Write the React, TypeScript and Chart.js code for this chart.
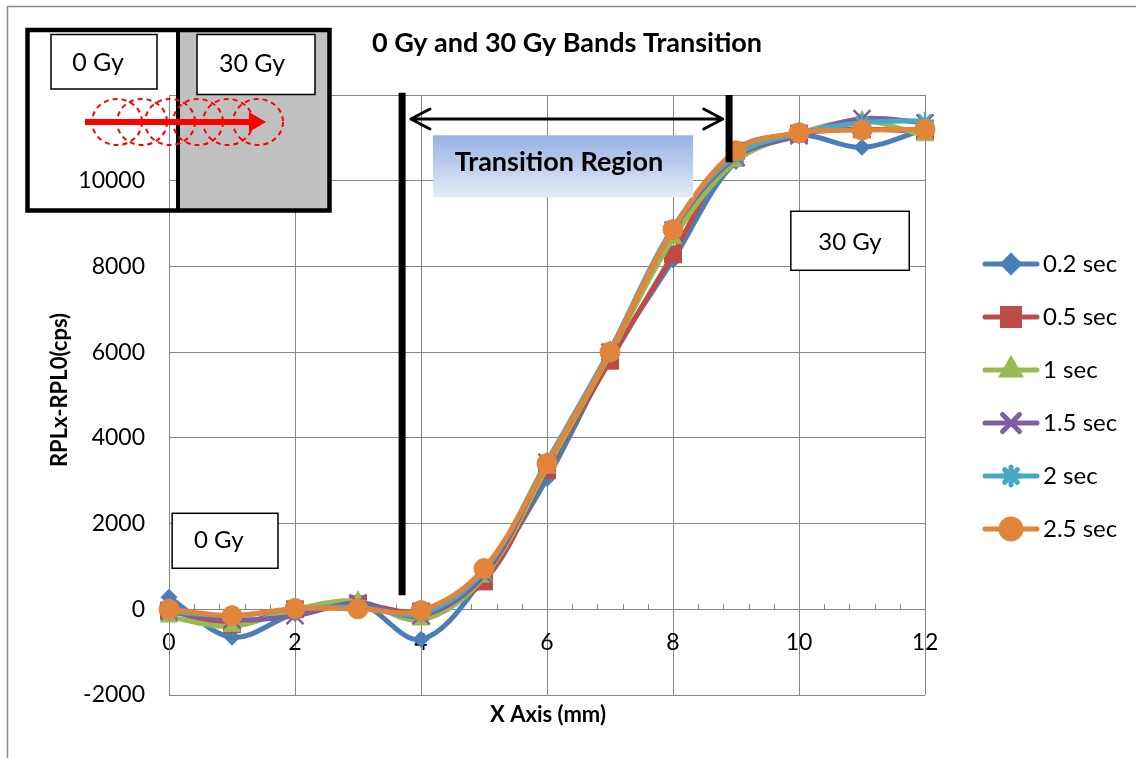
import React, { useEffect, useRef } from 'react';
import { Chart, registerables } from 'chart.js';
import { drawPoint } from 'chart.js/helpers';

Chart.register(...registerables);

// ---- data ----
const xValues = [0, 1, 2, 3, 4, 5, 6, 7, 8, 9, 10, 11, 12];
const seriesLabels = ['0.2 sec', '0.5 sec', '1 sec', '1.5 sec', '2 sec', '2.5 sec'];
const s02 = [280, -650, -100, 150, -700, 750, 3050, 5850, 8150, 10450, 11050, 10780, 11200];
const s05 = [-30, -350, 0, 120, -50, 650, 3250, 5800, 8280, 10700, 11100, 11200, 11150];
const s1 = [-180, -400, 0, 190, -250, 750, 3300, 5950, 8650, 10450, 11100, 11400, 11050];
const s15 = [-50, -250, -150, 150, -150, 800, 3430, 6000, 8850, 10550, 11050, 11450, 11350];
const s2 = [-50, -150, 0, 50, -100, 900, 3450, 6050, 8900, 10600, 11100, 11350, 11400];
const s25 = [0, -150, 20, 10, -30, 950, 3400, 6000, 8860, 10700, 11120, 11180, 11200];
const seriesValues = [s02, s05, s1, s15, s2, s25];
const xTickValues = [0, 2, 4, 6, 8, 10, 12];
const yTickValues = [-2000, 0, 2000, 4000, 6000, 8000, 10000, 12000];

// ---- styles ----
const seriesColors = ['#4A7EBB', '#BE4B48', '#98B954', '#7D60A0', '#46AAC5', '#E2843A'];
const pointStyles = ['rectRot', 'rect', 'triangle', 'crossRot', 'star', 'circle'];
const pointRadii = [8, 12, 10, 12, 9, 10];
const pointBorders = [1, 1, 1, 2.5, 2.5, 1];
const FONT = 'Lato, "Open Sans", sans-serif';
const GRID = '#868686';

function boxWithText(ctx: CanvasRenderingContext2D, x1: number, y1: number, x2: number, y2: number, text: string, tx: number, ty: number, size: number) {
  ctx.save();
  ctx.fillStyle = '#ffffff';
  ctx.fillRect(x1, y1, x2 - x1, y2 - y1);
  ctx.strokeStyle = '#000000';
  ctx.lineWidth = 1.5;
  ctx.strokeRect(x1, y1, x2 - x1, y2 - y1);
  ctx.fillStyle = '#000000';
  ctx.font = `${size}px ${FONT}`;
  ctx.textAlign = 'center';
  ctx.textBaseline = 'middle';
  ctx.fillText(text, tx, ty);
  ctx.restore();
}

const decor = {
  id: 'decor',
  beforeDraw(chart: any) {
    const ctx = chart.ctx as CanvasRenderingContext2D;
    ctx.save();
    ctx.fillStyle = '#ffffff';
    ctx.fillRect(0, 0, chart.width, chart.height);
    ctx.strokeStyle = '#8a8a8a';
    ctx.lineWidth = 1.5;
    ctx.beginPath();
    ctx.moveTo(7.5, chart.height + 2);
    ctx.lineTo(7.5, 6.5);
    ctx.lineTo(chart.width + 2, 6.5);
    ctx.stroke();
    ctx.restore();
  },
  beforeDatasetsDraw(chart: any) {
    const ctx = chart.ctx as CanvasRenderingContext2D;
    const xs = chart.scales.x;
    const ys = chart.scales.y;
    const y0 = ys.getPixelForValue(0);
    ctx.save();
    ctx.strokeStyle = GRID;
    ctx.lineWidth = 1;
    for (let k = 1; k < 30; k++) {
      if (k % 5 === 0) continue;
      const px = Math.round(xs.getPixelForValue(k * 0.4)) + 0.5;
      ctx.beginPath();
      ctx.moveTo(px, y0 - 5);
      ctx.lineTo(px, y0);
      ctx.stroke();
    }
    ctx.restore();
  },
  afterDraw(chart: any) {
    const ctx = chart.ctx as CanvasRenderingContext2D;
    const xs = chart.scales.x;
    const ys = chart.scales.y;
    const X = (v: number) => xs.getPixelForValue(v);
    const Y = (v: number) => ys.getPixelForValue(v);

    ctx.save();
    // thick vertical markers
    ctx.strokeStyle = '#000';
    ctx.lineWidth = 7;
    ctx.beginPath();
    ctx.moveTo(X(3.7), Y(12050));
    ctx.lineTo(X(3.7), Y(330));
    ctx.moveTo(X(8.89), Y(12000));
    ctx.lineTo(X(8.89), Y(10430));
    ctx.stroke();

    // double arrow
    const ay = Y(11440);
    const ax1 = X(3.84);
    const ax2 = X(8.79);
    ctx.lineWidth = 3;
    ctx.lineCap = 'round';
    ctx.lineJoin = 'round';
    ctx.beginPath();
    ctx.moveTo(ax1, ay);
    ctx.lineTo(ax2, ay);
    ctx.moveTo(ax1 + 19, ay - 10);
    ctx.lineTo(ax1, ay);
    ctx.lineTo(ax1 + 19, ay + 10);
    ctx.moveTo(ax2 - 19, ay - 10);
    ctx.lineTo(ax2, ay);
    ctx.lineTo(ax2 - 19, ay + 10);
    ctx.stroke();

    // transition region box
    const bx1 = X(4.19), bx2 = X(8.32), by1 = Y(11060), by2 = Y(9613);
    const g = ctx.createLinearGradient(0, by1, 0, by2);
    g.addColorStop(0, '#95B2E2');
    g.addColorStop(1, '#E6ECF8');
    ctx.fillStyle = g;
    ctx.fillRect(bx1, by1, bx2 - bx1, by2 - by1);
    ctx.fillStyle = '#000';
    ctx.font = `bold 27px ${FONT}`;
    ctx.textAlign = 'center';
    ctx.textBaseline = 'middle';
    ctx.fillText('Transition Region', X(6.19), Y(10420));
    ctx.restore();

    // labelled boxes in plot
    boxWithText(ctx, X(9.87), Y(9287), X(11.75), Y(7910), '30 Gy', X(10.81), Y(8563), 24);
    boxWithText(ctx, X(0.05), Y(2240), X(1.73), Y(957), '0 Gy', X(0.79), Y(1600), 24);

    // inset picture
    ctx.save();
    ctx.fillStyle = '#C0C0C0';
    ctx.fillRect(178, 30, 151, 180);
    ctx.strokeStyle = '#000';
    ctx.lineWidth = 4.5;
    ctx.strokeRect(27.5, 30, 302, 180.5);
    ctx.lineWidth = 4;
    ctx.beginPath();
    ctx.moveTo(178, 30);
    ctx.lineTo(178, 210);
    ctx.stroke();
    ctx.restore();
    boxWithText(ctx, 51, 34.5, 157, 89, '0 Gy', 98, 63, 25);
    boxWithText(ctx, 197, 34.5, 315, 94.5, '30 Gy', 252, 64, 25);
    ctx.save();
    ctx.strokeStyle = '#FF0000';
    ctx.lineWidth = 2;
    ctx.setLineDash([5, 4]);
    [117, 142, 170, 198, 228, 258].forEach((cx) => {
      ctx.beginPath();
      ctx.ellipse(cx, 122, 25, 23, 0, 0, Math.PI * 2);
      ctx.stroke();
    });
    ctx.setLineDash([]);
    ctx.lineWidth = 6;
    ctx.beginPath();
    ctx.moveTo(85, 122);
    ctx.lineTo(252, 122);
    ctx.stroke();
    ctx.fillStyle = '#FF0000';
    ctx.beginPath();
    ctx.moveTo(249, 112);
    ctx.lineTo(266, 122);
    ctx.lineTo(249, 132);
    ctx.closePath();
    ctx.fill();
    ctx.restore();

    // titles
    ctx.save();
    ctx.fillStyle = '#000';
    ctx.textAlign = 'center';
    ctx.textBaseline = 'middle';
    ctx.font = `bold 27px ${FONT}`;
    ctx.fillText('0 Gy and 30 Gy Bands Transition', 567, 43);
    ctx.font = `bold 22px ${FONT}`;
    ctx.fillText('X Axis (mm)', 548, 715);
    ctx.translate(60, 390);
    ctx.rotate(-Math.PI / 2);
    ctx.fillText('RPLx-RPL0(cps)', 0, 0);
    ctx.restore();

    // legend
    ctx.save();
    chart.data.datasets.forEach((ds: any, i: number) => {
      const ly = 264 + i * 53;
      ctx.strokeStyle = ds.borderColor;
      ctx.lineWidth = 5;
      ctx.lineCap = 'round';
      ctx.beginPath();
      ctx.moveTo(985, ly);
      ctx.lineTo(1037, ly);
      ctx.stroke();
      ctx.fillStyle = ds.borderColor;
      drawPoint(ctx, {
        pointStyle: ds.pointStyle,
        radius: ds.pointRadius,
        borderWidth: ds.pointBorderWidth,
        rotation: 0,
      } as any, 1011, ly);
      if (ds.pointBorderWidth) {
        ctx.lineWidth = ds.pointBorderWidth;
        ctx.stroke();
      }
      ctx.fillStyle = '#000';
      ctx.font = `24px ${FONT}`;
      ctx.textAlign = 'left';
      ctx.textBaseline = 'middle';
      ctx.fillText(ds.label, 1043, ly);
    });
    ctx.restore();
  },
};

export default function App() {
  const ref = useRef<HTMLCanvasElement | null>(null);
  useEffect(() => {
    if (!ref.current) return;
    const datasets = seriesValues.map((vals, i) => ({
      label: seriesLabels[i],
      data: xValues.map((x, j) => ({ x, y: vals[j] })),
      borderColor: seriesColors[i],
      backgroundColor: seriesColors[i],
      pointBackgroundColor: seriesColors[i],
      pointBorderColor: seriesColors[i],
      pointStyle: pointStyles[i],
      pointRadius: pointRadii[i],
      pointBorderWidth: pointBorders[i],
      borderWidth: 5,
      tension: 0.35,
      order: seriesValues.length - 1 - i,
      clip: false as any,
    }));
    const chart = new Chart(ref.current, {
      type: 'line',
      data: { datasets },
      options: {
        animation: false,
        responsive: true,
        maintainAspectRatio: false,
        layout: { padding: { top: 95, left: 0, right: 211, bottom: 63 } },
        plugins: { legend: { display: false }, title: { display: false }, tooltip: { enabled: false } },
        scales: {
          x: {
            type: 'linear',
            position: { y: 0 } as any,
            min: 0,
            max: 12,
            afterBuildTicks: (s: any) => { s.ticks = xTickValues.map((v) => ({ value: v })); },
            ticks: { color: '#000', font: { family: FONT, size: 23 }, padding: 19, callback: (v: any) => String(v) },
            grid: { color: GRID, lineWidth: 1, drawTicks: false },
            border: { color: GRID, width: 1 },
          },
          y: {
            type: 'linear',
            min: -2000,
            max: 12000,
            afterBuildTicks: (s: any) => { s.ticks = yTickValues.map((v) => ({ value: v })); },
            afterFit: (s: any) => { s.width = 169; },
            ticks: {
              color: '#000',
              font: { family: FONT, size: 23 },
              padding: 24,
              callback: (v: any) => (v === 12000 ? '' : String(v)),
            },
            grid: { color: GRID, lineWidth: 1, drawTicks: false },
            border: { color: GRID, width: 1 },
          },
        },
      },
      plugins: [decor],
    });
    return () => chart.destroy();
  }, []);
  return (
    <div style={{ position: 'fixed', left: 0, top: 0, width: 1136, height: 758, background: '#fff' }}>
      <canvas ref={ref} />
    </div>
  );
}
